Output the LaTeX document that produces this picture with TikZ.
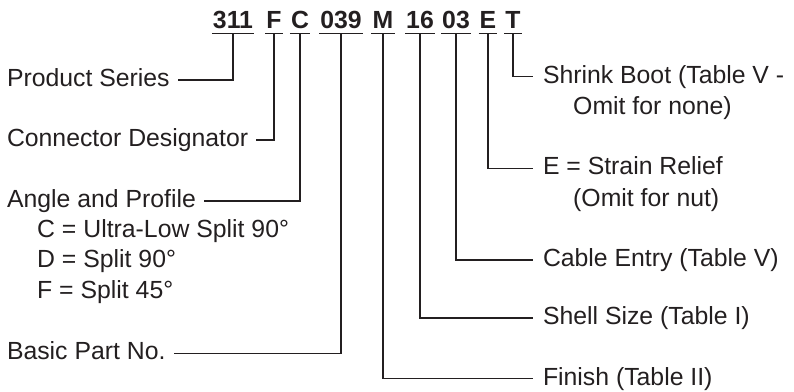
\documentclass[tikz,border=0pt]{standalone}
\usepackage{fontspec}
\setmainfont{Liberation Sans}
\definecolor{ink}{RGB}{35,31,32}
\begin{document}
\begin{tikzpicture}[x=1pt, y=-1pt, color=ink, font=\fontsize{24.8}{30}\selectfont,
	code/.style={font=\fontsize{24.8}{30}\selectfont\bfseries, anchor=base, inner xsep=1pt, inner ysep=5pt, text depth=0pt},
	lbl/.style={anchor=west, inner xsep=0pt, inner ysep=0pt, text height=13pt, text depth=0pt},
	lleft/.style={lbl, outer xsep=8pt},
	lright/.style={lbl, outer xsep=10pt},
	lead/.style={line width=1.6pt}]
	\useasboundingbox (0,0) rectangle (794,391);
	\node[code] (t311) at (233,28.3) {311};
	\node[code] (tF) at (274,28.3) {F};
	\node[code] (tC) at (300,28.3) {C};
	\node[code] (t039) at (341,28.3) {039};
	\node[code] (tM) at (383,28.3) {M};
	\node[code] (t16) at (420,28.3) {16};
	\node[code] (t03) at (456,28.3) {03};
	\node[code] (tE) at (488,28.3) {E};
	\node[code] (tT) at (513,28.3) {T};
	\foreach \n in {t311,tF,tC,t039,tM,t16,t03,tE,tT}
		\draw[lead] (\n.south west) -- (\n.south east);
	\node[lleft] (series) at (-1,80) {Product Series};
	\node[lleft] (desig) at (-1,140) {Connector Designator};
	\node[lleft] (angle) at (-1,200.7) {Angle and Profile};
	\node[lbl] (angC) at (37,230.5) {C = Ultra-Low Split 90°};
	\node[lbl] (angD) at (37,261) {D = Split 90°};
	\node[lbl] (angF) at (37,291.5) {F = Split 45°};
	\node[lleft] (basic) at (-1,353.3) {Basic Part No.};
	\node[lright] (boot) at (533,76.5) {Shrink Boot (Table V -};
	\node[lbl] (boot2) at (573,108) {Omit for none)};
	\node[lright] (relief) at (533,168.3) {E = Strain Relief};
	\node[lbl] (relief2) at (573,200) {(Omit for nut)};
	\node[lright] (entry) at (533,260) {Cable Entry (Table V)};
	\node[lright] (shell) at (533,318) {Shell Size (Table I)};
	\node[lright] (finish) at (533,378.5) {Finish (Table II)};
	\draw[lead] (t311.south) |- (series.east);
	\draw[lead] (tF.south) |- (desig.east);
	\draw[lead] (tC.south) |- (angle.east);
	\draw[lead] (t039.south) |- (basic.east);
	\draw[lead] (tM.south) |- (finish.west);
	\draw[lead] (t16.south) |- (shell.west);
	\draw[lead] (t03.south) |- (entry.west);
	\draw[lead] (tE.south) |- (relief.west);
	\draw[lead] (tT.south) |- (boot.west);
\end{tikzpicture}
\end{document}
